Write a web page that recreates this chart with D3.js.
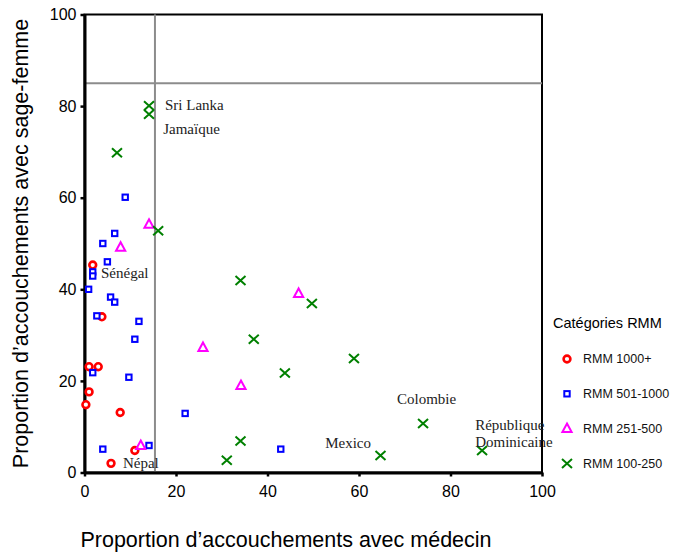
<!DOCTYPE html>
<html>
<head>
<meta charset="utf-8">
<script src="https://cdn.jsdelivr.net/npm/d3@7"></script>
<style>
  body { margin: 0; background: #fff; }
  .tick text { font-family: "Liberation Sans", Arial, sans-serif; font-size: 16px; fill: #000; }
  .axisText { font-family: "Liberation Sans", Arial, sans-serif; font-size: 21.5px; fill: #000; }
  .country { font-family: "Liberation Serif", "Times New Roman", serif; font-size: 15px; fill: #222; }
  .legendText { font-family: "Liberation Sans", Arial, sans-serif; font-size: 12.5px; fill: #111; }
</style>
</head>
<body>
<div id="scatter"></div>
<script>
// categories + marker styles
var categories = ["RMM 1000+", "RMM 501-1000", "RMM 251-500", "RMM 100-250"];
var colors = ["#ff0000", "#0000ff", "#ff00ff", "#008000"];
var shapes = ["circle", "square", "triangle", "cross"];

// values (x = avec médecin, y = avec sage-femme)
var rmm1000X = [1.8, 3.8, 1.0, 3.0, 1.0, 0.3, 7.8, 11.0, 5.8];
var rmm1000Y = [45.3, 34.0, 23.1, 23.1, 17.6, 14.8, 13.1, 4.8, 2.0];

var rmm501X = [8.9, 6.6, 4.0, 5.0, 1.8, 1.8, 0.9, 5.7, 6.6, 2.7, 11.9, 11.0, 1.8, 9.7, 22.0, 4.0, 14.1, 42.9];
var rmm501Y = [60.1, 52.2, 50.0, 46.0, 43.8, 42.9, 40.0, 38.3, 37.2, 34.2, 33.0, 29.1, 21.8, 20.8, 12.9, 5.1, 5.9, 5.1];

var rmm251X = [14.1, 7.9, 46.8, 25.9, 34.2, 12.3];
var rmm251Y = [54.2, 49.2, 39.1, 27.3, 19.0, 5.9];

var rmm100X = [14.1, 14.1, 7.1, 16.1, 34.1, 49.7, 37.0, 58.9, 43.8, 74.0, 34.1, 31.1, 64.7, 86.9];
var rmm100Y = [80.1, 78.2, 69.8, 52.8, 41.9, 36.9, 29.1, 24.9, 21.7, 10.7, 6.9, 2.7, 3.7, 4.8];

// country labels (text baseline-left, in data units)
var labelNames = ["Sri Lanka", "Jamaïque", "Sénégal", "Népal", "Colombie", "Mexico", "République", "Dominicaine"];
var labelX = [17.6, 17.2, 3.6, 8.4, 68.3, 52.6, 85.4, 85.4];
var labelY = [79.1, 74.0, 42.5, 1.0, 15.0, 5.4, 9.3, 5.5];

// reference lines
var refX = 15.4;
var refY = 85;

var tickValues = [0, 20, 40, 60, 80, 100];

// svg params
var svgWidth = 673;
var svgHeight = 557;

var margin = { top: 14.5, right: 131, bottom: 84.5, left: 84.5 };
var chartWidth = svgWidth - margin.left - margin.right;
var chartHeight = svgHeight - margin.top - margin.bottom;

var svg = d3.select("#scatter").append("svg")
  .attr("width", svgWidth)
  .attr("height", svgHeight);

var chartGroup = svg.append("g")
  .attr("transform", `translate(${margin.left}, ${margin.top})`);

var xLinearScale = d3.scaleLinear().domain([0, 100]).range([0, chartWidth]);
var yLinearScale = d3.scaleLinear().domain([0, 100]).range([chartHeight, 0]);

// frame (top + right)
chartGroup.append("rect")
  .attr("x", 0).attr("y", 0)
  .attr("width", chartWidth).attr("height", chartHeight)
  .attr("fill", "none")
  .attr("stroke", "#000")
  .attr("stroke-width", 2);

// gray reference lines
chartGroup.append("line")
  .attr("x1", xLinearScale(refX)).attr("x2", xLinearScale(refX))
  .attr("y1", 0).attr("y2", chartHeight)
  .attr("stroke", "#8c8c8c").attr("stroke-width", 2);
chartGroup.append("line")
  .attr("x1", 0).attr("x2", chartWidth)
  .attr("y1", yLinearScale(refY)).attr("y2", yLinearScale(refY))
  .attr("stroke", "#8c8c8c").attr("stroke-width", 2);

// axes
var xAxis = d3.axisBottom(xLinearScale).tickValues(tickValues).tickSizeInner(4).tickSizeOuter(0).tickPadding(9);
var yAxis = d3.axisLeft(yLinearScale).tickValues(tickValues).tickSizeInner(4).tickSizeOuter(0).tickPadding(4);

var xg = chartGroup.append("g")
  .attr("transform", `translate(0, ${chartHeight})`)
  .call(xAxis);
var yg = chartGroup.append("g").call(yAxis);

[xg, yg].forEach(function(g) {
  g.select(".domain").attr("stroke", "#000").attr("stroke-width", 3);
  g.selectAll(".tick line").attr("stroke", "#000").attr("stroke-width", 2.5);
});

// markers
function drawMarker(sel, shape, color) {
  if (shape === "circle") {
    sel.append("circle").attr("r", 3.4).attr("fill", "#fff")
      .attr("stroke", color).attr("stroke-width", 2.6);
  } else if (shape === "square") {
    sel.append("rect").attr("x", -2.7).attr("y", -2.7).attr("width", 5.4).attr("height", 5.4)
      .attr("fill", "#fff").attr("stroke", color).attr("stroke-width", 2);
  } else if (shape === "triangle") {
    sel.append("path").attr("d", "M0,-5L4.6,3.5L-4.6,3.5Z")
      .attr("fill", "none").attr("stroke", color).attr("stroke-width", 2);
  } else {
    sel.append("path").attr("d", "M-5,-4.5L5,4.5M-5,4.5L5,-4.5")
      .attr("fill", "none").attr("stroke", color).attr("stroke-width", 2);
  }
}

var seriesX = [rmm1000X, rmm501X, rmm251X, rmm100X];
var seriesY = [rmm1000Y, rmm501Y, rmm251Y, rmm100Y];

categories.forEach(function(cat, i) {
  var pts = seriesX[i].map(function(x, j) { return { x: x, y: seriesY[i][j] }; });
  chartGroup.append("g").selectAll("g")
    .data(pts)
    .enter()
    .append("g")
    .attr("transform", d => `translate(${xLinearScale(d.x)}, ${yLinearScale(d.y)})`)
    .each(function() { drawMarker(d3.select(this), shapes[i], colors[i]); });
});

// country labels
chartGroup.selectAll(".country")
  .data(labelNames)
  .enter()
  .append("text")
  .attr("class", "country")
  .attr("x", (d, i) => xLinearScale(labelX[i]))
  .attr("y", (d, i) => yLinearScale(labelY[i]))
  .text(d => d);

// axes labels
svg.append("text")
  .attr("class", "axisText")
  .attr("transform", `translate(28, ${margin.top + chartHeight / 2}) rotate(-90)`)
  .attr("text-anchor", "middle")
  .text("Proportion d\u2019accouchements avec sage-femme");

svg.append("text")
  .attr("class", "axisText")
  .attr("x", 286)
  .attr("y", 547)
  .attr("text-anchor", "middle")
  .text("Proportion d\u2019accouchements avec médecin");

// legend
var legend = svg.append("g");
legend.append("text")
  .attr("x", 553).attr("y", 328)
  .style("font-family", "Liberation Sans, Arial, sans-serif")
  .style("font-size", "14.5px")
  .text("Catégories RMM");

var legendItems = legend.selectAll(".item")
  .data(categories)
  .enter()
  .append("g")
  .attr("class", "item")
  .attr("transform", (d, i) => `translate(567, ${359 + i * 34.8})`);

legendItems.each(function(d, i) { drawMarker(d3.select(this), shapes[i], colors[i]); });
legendItems.append("text")
  .attr("class", "legendText")
  .attr("x", 16)
  .attr("dy", "0.35em")
  .text(d => d);
</script>
</body>
</html>
